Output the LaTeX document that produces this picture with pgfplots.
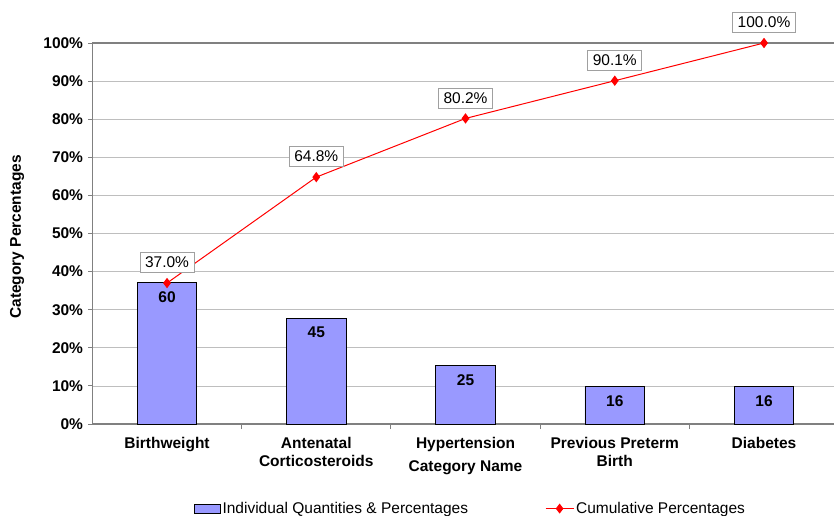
\documentclass[border=0pt]{standalone}
\usepackage{fontspec}
\setmainfont{Liberation Sans}
\usepackage{pgfplots}
\usepackage{pgfplotstable}
\pgfplotsset{compat=1.18}
\definecolor{barblue}{HTML}{9999FF}
\definecolor{gridgray}{HTML}{BEBEBE}
\definecolor{axisgray}{HTML}{808080}
\definecolor{boxgray}{HTML}{A0A0A0}

\pgfplotstableread{
x pct count cum
0 37.04 60 37.0
1 27.78 45 64.8
2 15.43 25 80.2
3 9.88 16 90.1
4 9.88 16 100.0
}\datatable

\begin{document}
\fontsize{15.5}{19}\selectfont
\begin{tikzpicture}
\useasboundingbox (-92.4pt,-91pt) rectangle (741.6pt,424pt);
\begin{axis}[
  at={(0,0)}, anchor=south west,
  scale only axis, width=746.25pt, height=381pt,
  xmin=-0.5, xmax=4.5, ymin=0, ymax=100,
  /pgf/number format/assume math mode=true,
  xtick={0,1,2,3,4},
  xticklabels={Birthweight, Antenatal\\Corticosteroids, Hypertension, Previous Preterm\\Birth, Diabetes},
  xticklabel style={align=center, font=\fontsize{15.5}{18}\selectfont\bfseries, yshift=-3.5pt},
  major x tick style={draw=none},
  minor xtick={0.5,1.5,2.5,3.5},
  major tick length=4pt, minor tick length=5pt,
  tick align=outside,
  xtick pos=left, ytick pos=left,
  ytick={0,10,...,100},
  yticklabel={\pgfmathprintnumber{\tick}\%},
  yticklabel style={font=\bfseries},
  ymajorgrids, grid style={gridgray, line width=0.8pt},
  axis line style={axisgray, line width=1.5pt},
  tick style={axisgray, line width=1pt},
  xlabel={Category Name},
  xlabel style={at={(axis description cs:0.5,-0.1155)}, anchor=center, font=\bfseries},
  ylabel={Category Percentages},
  ylabel style={at={(axis description cs:-0.1010,0.491)}, anchor=center, font=\bfseries},
  legend columns=2,
  legend style={at={(axis description cs:0.5065,-0.222)}, anchor=center, draw=none, fill=none,
    font=\mdseries, /tikz/every even column/.append style={column sep=75pt}},
  legend cell align=left,
]
\addplot[ybar, bar width=0.4, fill=barblue, draw=black, line width=0.8pt,
  point meta=explicit symbolic, nodes near coords,
  nodes near coords style={anchor=center, yshift=-14.5pt, font=\bfseries, text=black},
  legend image code/.code={\draw[fill=barblue, draw=black, line width=0.8pt] (0pt,-4.5pt) rectangle (26pt,4.5pt);}]
  table[x=x, y=pct, meta=count]{\datatable};
\addlegendentry{Individual Quantities \& Percentages}
\addplot[red, line width=1pt, mark=diamond*, mark size=4.4pt, mark options={fill=red, solid},
  point meta=explicit,
  nodes near coords={\pgfmathprintnumber[fixed, fixed zerofill, precision=1]{\pgfplotspointmeta}\%},
  nodes near coords style={anchor=center, yshift=20.5pt, draw=boxgray, fill=white, text=black,
    inner xsep=5pt, inner ysep=4.5pt, font=\mdseries, line width=0.8pt},
  legend image code/.code={\draw[red, line width=1pt] (0pt,0pt) -- (28pt,0pt); \fill[red] (14pt,4.2pt) -- (10.8pt,0pt) -- (14pt,-4.2pt) -- (17.2pt,0pt) -- cycle;}]
  table[x=x, y=cum, meta=cum]{\datatable};
\addlegendentry{Cumulative Percentages}
\end{axis}
\end{tikzpicture}
\end{document}
